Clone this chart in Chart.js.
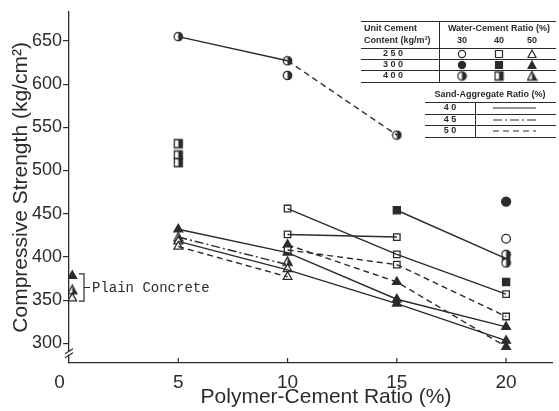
<!DOCTYPE html>
<html><head><meta charset="utf-8">
<script src="https://cdn.jsdelivr.net/npm/chart.js@4/dist/chart.umd.min.js"></script>
<style>html,body{margin:0;padding:0;background:#fff}#wrap{width:559px;height:411px}</style>
</head><body><div id="wrap"><canvas id="c" width="559" height="411"></canvas></div>
<script>
// ---- tick labels ----
const xTicks = [0, 5, 10, 15, 20];
const yTicks = [300, 350, 400, 450, 500, 550, 600, 650];

// ---- connecting lines (polymer-cement ratio, compressive strength) ----
// sand-aggregate 40 % = solid, 45 % = dash-dot, 50 % = dashed
const lineS1 = [[5, 655], [10, 627]];
const lineD1 = [[10, 627], [15, 541]];
const lineS2 = [[5, 432], [10, 405], [15, 351], [20, 319]];
const lineDD1 = [[5, 423], [10, 391]];
const lineS3 = [[5, 418], [10, 385], [15, 346], [20, 303]];
const lineD2 = [[5, 412], [10, 377]];
const lineS4 = [[10, 456], [15, 403], [20, 357]];
const lineS5 = [[10, 426], [15, 423]];
const lineD3 = [[10, 408], [15, 391], [20, 331]];
const lineD4 = [[10, 414], [15, 371], [20, 296]];
const lineS6 = [[15, 454], [20, 398]];

// ---- markers ----
const openCircle = [[20, 421]];
const filledCircle = [[20, 464]];
const halfCircle = [[5, 655], [10, 627], [10, 610], [15, 541], [20, 403], [20, 393]];
const openSquare = [[10, 456], [10, 426], [10, 408], [15, 423], [15, 403], [15, 391], [20, 357], [20, 331]];
const filledSquare = [[15, 454], [20, 398], [20, 371]];
const halfSquare = [[5, 531], [5, 518], [5, 509]];
const openTriangle = [[5, 418], [5, 412], [10, 386], [10, 377], [0.15, 352]];
const filledTriangle = [[5, 432], [10, 414], [10, 405], [15, 371], [15, 351], [15, 346], [20, 319], [20, 303], [20, 296], [0.15, 378]];
const halfTriangle = [[5, 423], [10, 395], [0.15, 362]];

const INK = '#2b2b2b';
const pts = a => a.map(p => ({x: p[0], y: p[1]}));

function halfImg(kind) {
  const c = document.createElement('canvas');
  c.width = 11; c.height = 11;
  const g = c.getContext('2d');
  const m = 5.5;
  function path() {
    g.beginPath();
    if (kind === 'circle') g.arc(m, m, 4.2, 0, Math.PI * 2);
    else if (kind === 'rect') g.rect(1.5, 1.5, 8, 8);
    else { g.moveTo(m, 1); g.lineTo(10, 9.5); g.lineTo(1, 9.5); g.closePath(); }
  }
  path(); g.fillStyle = '#fff'; g.fill();
  g.save(); path(); g.clip(); g.fillStyle = INK; g.fillRect(m, 0, 6, 11); g.restore();
  path(); g.lineWidth = 1.3; g.strokeStyle = INK; g.stroke();
  return c;
}

function lineDs(a, dash) {
  return {data: pts(a), showLine: true, borderColor: INK, borderWidth: 1.4, borderDash: dash,
    pointRadius: 0, pointHoverRadius: 0, fill: false};
}
function markDs(a, style, fillCol, r) {
  return {data: pts(a), showLine: false, pointStyle: style, pointRadius: r, pointHoverRadius: r,
    backgroundColor: fillCol, borderColor: INK, pointBorderWidth: 1.3};
}
const DASH = [6, 4], DASHDOT = [9, 3, 2, 3];

const datasets = [
  lineDs(lineS1, []), lineDs(lineD1, DASH), lineDs(lineS2, []), lineDs(lineDD1, DASHDOT),
  lineDs(lineS3, []), lineDs(lineD2, DASH), lineDs(lineS4, []), lineDs(lineS5, []),
  lineDs(lineD3, DASH), lineDs(lineD4, DASH), lineDs(lineS6, []),
  markDs(openCircle, 'circle', '#fff', 4.3),
  markDs(filledCircle, 'circle', INK, 4.5),
  markDs(halfCircle, halfImg('circle'), INK, 5),
  markDs(openSquare, 'rect', '#fff', 4.6),
  markDs(filledSquare, 'rect', INK, 5),
  markDs(halfSquare, halfImg('rect'), INK, 5),
  markDs(openTriangle, 'triangle', '#fff', 5),
  markDs(filledTriangle, 'triangle', INK, 5),
  markDs(halfTriangle, halfImg('triangle'), INK, 5)
];

function drawMarker(ctx, kind, fill, x, y) {
  ctx.save();
  ctx.strokeStyle = INK; ctx.lineWidth = 1.2;
  if (fill === 'half') { ctx.drawImage(halfImg(kind), x - 5.5, y - 5.5); ctx.restore(); return; }
  ctx.fillStyle = fill === 'filled' ? INK : '#fff';
  ctx.beginPath();
  if (kind === 'circle') ctx.arc(x, y, 3.6, 0, Math.PI * 2);
  else if (kind === 'rect') ctx.rect(x - 3.5, y - 3.5, 7, 7);
  else { ctx.moveTo(x, y - 4); ctx.lineTo(x + 4, y + 3.5); ctx.lineTo(x - 4, y + 3.5); ctx.closePath(); }
  ctx.fill(); ctx.stroke();
  ctx.restore();
}

const extras = {
  id: 'extras',
  afterDraw(chart) {
    const ctx = chart.ctx, xs = chart.scales.x, ys = chart.scales.y;
    const ax = xs.getPixelForValue(0), by = ys.bottom;
    ctx.save();
    ctx.strokeStyle = INK; ctx.fillStyle = INK; ctx.lineWidth = 1.2;
    // inward x ticks
    xTicks.forEach(v => { if (v === 0) return; const px = xs.getPixelForValue(v);
      ctx.beginPath(); ctx.moveTo(px, by); ctx.lineTo(px, by - 5); ctx.stroke(); });
    // axis break
    const bk = ys.getPixelForValue(288.5);
    ctx.fillStyle = '#fff'; ctx.fillRect(ax - 2, bk - 1.5, 4, 3);
    ctx.beginPath();
    ctx.moveTo(ax - 4, bk + 0.5); ctx.lineTo(ax + 4, bk - 4.5);
    ctx.moveTo(ax - 4, bk + 4.5); ctx.lineTo(ax + 4, bk - 0.5);
    ctx.stroke();
    // plain concrete bracket
    const t = ys.getPixelForValue(378) - 2, b = ys.getPixelForValue(350) + 1, m = (t + b) / 2;
    ctx.beginPath();
    ctx.moveTo(79, t); ctx.lineTo(84, t); ctx.lineTo(84, b); ctx.lineTo(79, b);
    ctx.moveTo(84, m); ctx.lineTo(90, m);
    ctx.stroke();
    ctx.fillStyle = INK;
    ctx.font = '14px "Liberation Mono", monospace';
    ctx.textBaseline = 'middle'; ctx.textAlign = 'left';
    ctx.fillText('Plain Concrete', 92, m + 1);
    // x title
    ctx.font = '21px "Liberation Sans", Arial, sans-serif';
    ctx.textAlign = 'center';
    ctx.fillText('Polymer-Cement Ratio (%)', 326, 397);

    // ---- legend table 1 ----
    ctx.lineWidth = 1;
    ctx.beginPath();
    [21, 48, 59, 70, 82].forEach(y => { ctx.moveTo(361, y + 0.5); ctx.lineTo(556, y + 0.5); });
    ctx.moveTo(439.5, 21); ctx.lineTo(439.5, 82);
    ctx.stroke();
    ctx.font = 'bold 9px "Liberation Sans Narrow", "Liberation Sans", sans-serif';
    ctx.textAlign = 'left';
    ctx.fillText('Unit Cement', 364, 29);
    ctx.fillText('Content (kg/m³)', 364, 41);
    ctx.textAlign = 'center';
    ctx.fillText('Water-Cement Ratio (%)', 499, 29);
    ctx.fillText('30', 462, 41); ctx.fillText('40', 499, 41); ctx.fillText('50', 532, 41);
    const rows = [['2 5 0', 54, 'open'], ['3 0 0', 65, 'filled'], ['4 0 0', 76, 'half']];
    rows.forEach(r => {
      ctx.fillStyle = INK; ctx.fillText(r[0], 393, r[1]);
      drawMarker(ctx, 'circle', r[2], 462, r[1]);
      drawMarker(ctx, 'rect', r[2], 499, r[1]);
      drawMarker(ctx, 'triangle', r[2], 532, r[1]);
    });
    // ---- legend table 2 ----
    ctx.fillStyle = INK;
    ctx.fillText('Sand-Aggregate Ratio (%)', 490, 95);
    ctx.beginPath();
    [102, 114, 125, 137].forEach(y => { ctx.moveTo(425, y + 0.5); ctx.lineTo(556, y + 0.5); });
    ctx.moveTo(475.5, 102); ctx.lineTo(475.5, 137);
    ctx.stroke();
    const rows2 = [['4 0', 108, []], ['4 5', 120, DASHDOT], ['5 0', 131, DASH]];
    rows2.forEach(r => {
      ctx.fillText(r[0], 450, r[1]);
      ctx.save(); ctx.setLineDash(r[2]); ctx.lineWidth = 1.2;
      ctx.beginPath(); ctx.moveTo(493, r[1]); ctx.lineTo(536, r[1]); ctx.stroke(); ctx.restore();
    });
    ctx.restore();
  }
};

new Chart(document.getElementById('c'), {
  type: 'scatter',
  data: {datasets},
  options: {
    animation: false, responsive: false, devicePixelRatio: 1,
    layout: {padding: {top: 7, right: 7, left: 0, bottom: 0}},
    plugins: {legend: {display: false}, tooltip: {enabled: false}},
    scales: {
      x: {type: 'linear', min: 0, max: 22.1,
        afterBuildTicks: s => { s.ticks = xTicks.map(v => ({value: v})); },
        afterFit: s => { s.height = 48; },
        grid: {display: false, drawTicks: false},
        border: {display: true, color: INK, width: 1.3},
        ticks: {padding: 8, color: INK, font: {size: 19, family: '"Liberation Sans", Arial, sans-serif'},
          callback: v => v === 0 ? '0\u2003' : String(v)}},
      y: {type: 'linear', min: 277.2, max: 683.7,
        afterBuildTicks: s => { s.ticks = yTicks.map(v => ({value: v})); },
        afterFit: s => { s.width = 69; },
        grid: {display: true, drawOnChartArea: false, drawTicks: true, tickLength: 6, color: INK, lineWidth: 1.2},
        border: {display: true, color: INK, width: 1.3},
        ticks: {padding: 1, color: INK, font: {size: 18, family: '"Liberation Sans", Arial, sans-serif'}},
        title: {display: true, text: 'Compressive Strength (kg/cm²)', color: INK,
          font: {size: 21, family: '"Liberation Sans", Arial, sans-serif'}, padding: {top: 9, bottom: 0}}}
    }
  },
  plugins: [extras]
});
</script>
</body></html>
